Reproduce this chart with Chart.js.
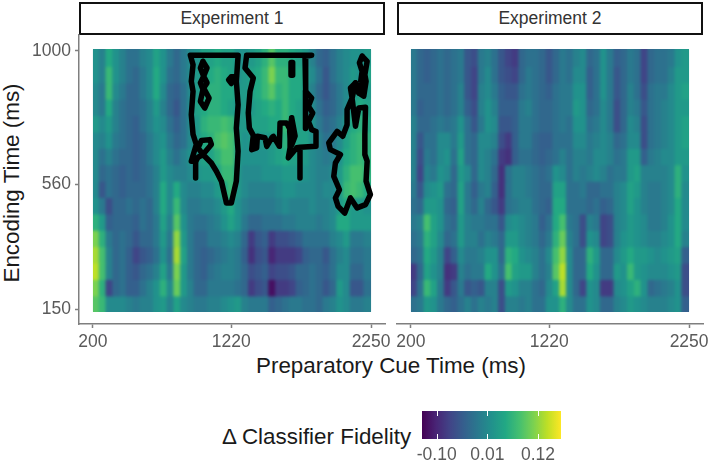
<!DOCTYPE html>
<html>
<head>
<meta charset="utf-8">
<title>Classifier fidelity</title>
<script src="https://cdn.jsdelivr.net/npm/chart.js@4/dist/chart.umd.min.js"></script>
<style>
  html, body { margin: 0; padding: 0; background: #fff; }
  body { width: 709px; height: 466px; position: relative; overflow: hidden; font-family: "Liberation Sans", Arial, sans-serif; }
  canvas { position: absolute; }
  .strip { position: absolute; top: 2px; height: 29px; box-sizing: content-box; border: 2px solid #111; background: #fff;
           text-align: center; font-size: 17.5px; line-height: 29px; color: #333; }
  .title { position: absolute; color: #1a1a1a; font-size: 22.4px; white-space: nowrap; }
</style>
</head>
<body>
<div class="strip" style="left:79px;width:302px">Experiment 1</div>
<div class="strip" style="left:397px;width:302px">Experiment 2</div>
<div class="title" style="left:12px;top:183px;transform:translate(-50%,-50%) rotate(-90deg)">Encoding Time (ms)</div>
<div class="title" style="left:391px;top:366px;transform:translate(-50%,-50%)">Preparatory Cue Time (ms)</div>
<div class="title" style="left:222px;top:437px;transform:translateY(-50%)">Δ Classifier Fidelity</div>

<canvas id="exp1" style="left:0;top:34px" width="395" height="320"></canvas>
<canvas id="exp2" style="left:385px;top:34px" width="324" height="320"></canvas>
<canvas id="legendBar" style="left:405px;top:411px" width="175" height="55"></canvas>

<script>
// Cell centres on both axes, in ms
const cueTimes = [225, 275, 325, 375, 425, 475, 525, 575, 625, 675, 725, 775, 825, 875, 925, 975, 1025, 1075, 1125, 1175, 1225,
    1275, 1325, 1375, 1425, 1475, 1525, 1575, 1625, 1675, 1725, 1775, 1825, 1875, 1925, 1975, 2025, 2075, 2125, 2175, 2225];
const encodingTimes = [978, 924, 870, 816, 762, 708, 654, 600, 546, 492, 438, 384, 330, 276, 222, 168];
const encodingStep = 54;

const cueTicks = [200, 1220, 2250];
const encodingTicks = [150, 560, 1000];
const legendTicks = [-0.10, 0.01, 0.12];
const legendRange = [-0.132, 0.17];

// Fidelity difference in hundredths, one line per encoding time, top row first
const exp1Fidelity = [
    [2,0,5,2,0,-2,-2,0,1,4,2,-1,-3,-1,1,2,4,4,5,4,4,2,2,3,4,6,9,6,6,5,4,3,0,-3,-4,-2,0,1,2,2,3],
    [2,0,7,2,0,-2,-3,-1,1,5,2,-2,-3,-1,1,3,4,5,6,5,4,2,3,4,5,7,11,7,7,5,5,4,1,-2,-5,-2,0,1,3,2,4],
    [1,-1,7,1,-1,-3,-3,-1,1,5,1,-3,-4,-2,1,3,5,6,6,5,5,3,3,4,5,7,9,6,7,5,5,3,0,-3,-5,-3,-1,1,3,4,3],
    [1,-1,5,0,-2,-3,-3,-2,0,3,0,-3,-5,-2,1,4,5,6,6,5,4,2,3,3,4,5,6,5,7,5,4,3,1,-2,-4,-3,-1,1,4,5,4],
    [3,1,3,0,-2,-3,-4,-2,0,2,1,-2,-4,-2,1,3,6,7,7,8,7,3,3,4,4,4,5,5,7,5,4,4,2,-1,-3,-2,0,3,5,6,5],
    [1,0,2,-1,-2,-3,-4,-3,-1,1,2,-1,-3,-2,1,3,5,6,8,9,8,4,2,3,2,3,3,4,6,5,4,4,2,0,-2,-1,1,4,6,7,6],
    [1,-2,0,-2,-3,-3,-4,-3,-1,1,3,0,-2,0,2,3,4,4,6,8,8,3,2,2,2,2,3,4,5,4,4,3,1,0,-1,0,2,5,6,7,6],
    [1,-3,-2,-3,-4,-3,-4,-3,-2,0,3,1,0,0,1,2,3,3,4,7,7,3,1,1,1,2,2,2,3,3,3,2,1,0,0,1,3,6,8,8,6],
    [1,-5,-2,-3,-4,-3,-3,-3,-2,0,5,1,5,1,0,0,1,1,3,5,7,3,1,0,0,0,0,1,2,2,1,1,1,0,1,1,3,7,8,7,5],
    [2,-1,-6,-3,-3,-2,-3,-2,-3,0,5,1,7,1,-1,-1,0,0,1,3,5,2,0,-1,-1,-1,-1,0,1,0,0,0,1,0,0,1,3,5,3,3,2],
    [6,3,-4,-3,-3,-3,-4,-2,-3,-1,4,0,9,2,-1,-2,-2,-1,0,2,4,2,-1,-3,-3,-2,-2,-2,-1,-1,0,0,0,-1,0,1,5,5,3,3,3],
    [11,6,-1,-3,-2,-3,-5,-3,-3,-1,3,-1,12,3,-1,-3,-3,-1,-1,0,1,0,-3,-8,-5,-4,-8,-6,-6,-5,-4,-2,-2,-2,-2,0,1,3,-1,-1,0],
    [13,8,0,-3,-2,-4,-7,-5,-4,-2,2,-2,13,4,-1,-3,-4,-3,-2,-1,0,-1,-4,-9,-6,-5,-10,-8,-8,-8,-7,-4,-3,-3,-5,-2,0,1,-2,-2,-1],
    [14,8,0,-3,-2,-4,-5,-3,-2,0,4,-1,11,3,-1,-3,-4,-2,-1,0,0,-1,-3,-6,-5,-4,-7,-6,-6,-5,-3,-3,-2,-3,-4,-2,1,1,-3,-3,-1],
    [11,6,-7,-3,-2,-4,-4,-2,0,2,6,1,10,3,0,-3,-3,-1,-1,-1,-1,-2,-3,-8,-6,-5,-12,-8,-8,-7,-4,-3,-2,-3,-5,-3,3,1,-5,-5,-2],
    [9,7,1,1,1,0,-1,0,0,2,3,0,4,1,0,-1,-1,0,0,1,2,3,0,-1,-1,-1,-4,-3,-2,-1,-1,-2,-2,-3,-1,0,2,1,-1,-1,0]
];
const exp2Fidelity = [
    [-1,-3,-4,-3,-2,-3,-2,-1,-5,-6,-1,0,-2,-5,-7,-8,-3,-2,-2,-3,-5,-3,-1,-2,0,1,-3,-2,2,-1,-4,-3,-1,-2,-7,-3,-2,-2,-1,2,3],
    [-1,-3,-4,-3,-2,-3,-2,-1,-5,-7,-1,1,-2,-5,-6,-7,-3,-1,-2,-3,-5,-3,-1,-2,1,1,-4,-2,2,-1,-5,-3,-1,-2,-7,-3,-2,-2,0,3,3],
    [-1,-3,-3,-3,-2,-3,-2,0,-5,-7,0,1,-1,-4,-5,-5,-2,-1,-2,-3,-4,-2,-1,-1,2,2,-4,-2,2,-1,-5,-3,0,-2,-6,-2,-1,-1,1,3,4],
    [-1,-4,-3,-3,-2,-3,-2,0,-4,-6,0,2,0,-4,-4,-4,-1,0,-2,-3,-3,-2,-1,-1,3,2,-3,-2,1,-1,-6,-3,0,-1,-5,-2,-1,0,1,3,3],
    [0,-3,-3,-2,-1,-2,-1,2,-2,-5,-1,2,1,-5,-5,-4,-1,-1,-2,-3,-3,-2,-1,-2,2,2,-2,-1,1,-1,-6,-3,1,0,-6,-2,-1,0,1,3,4],
    [0,-5,-2,-2,1,1,-1,3,-2,-3,1,1,0,-6,-8,-4,-1,-1,-3,-4,-4,-2,-2,-2,1,1,-1,0,1,0,-3,-2,1,1,-6,-2,-1,0,1,3,4],
    [0,-6,-1,-2,1,2,-2,4,-2,-3,1,0,-2,-8,-9,-4,-2,-2,-3,-4,-3,-2,0,-2,0,0,-1,1,1,0,-2,-1,3,3,-4,-1,0,1,1,3,3],
    [0,-7,0,-1,2,1,-3,3,1,-3,1,0,-3,-9,-2,0,0,-1,-2,-3,-2,2,1,-2,0,-1,0,1,0,-2,-1,-1,3,4,0,0,0,0,1,6,2],
    [-1,-5,1,2,3,-2,-3,4,-1,-4,-1,0,-4,-9,-2,0,0,-1,-2,-3,-3,4,4,-2,-2,-1,-3,-3,-2,-2,0,1,4,3,0,-1,-1,0,1,6,1],
    [-2,-3,3,3,2,-3,-4,4,-1,-3,0,-3,-5,-8,-2,-1,0,0,-2,-3,-4,5,5,-2,-2,-2,-3,-2,-4,-3,0,1,4,2,0,-1,-1,0,1,5,1],
    [-1,0,8,4,2,-2,-3,3,0,-1,-1,-2,-2,-5,1,2,1,0,-1,-4,-2,5,8,-1,-2,-6,0,-1,-7,-6,0,1,3,2,1,-1,-1,0,2,5,1],
    [-2,-1,6,4,1,-3,-2,3,0,0,-2,0,-1,-3,3,3,1,0,-1,-3,-1,6,10,0,-2,-6,2,1,-7,-6,0,2,3,2,1,0,0,1,2,5,0],
    [-3,-2,5,3,0,-7,-4,1,-1,-1,0,2,2,-3,6,5,2,1,0,-2,1,8,12,1,-3,-3,6,3,-3,-3,1,3,5,3,3,2,1,2,3,4,-4],
    [-8,-3,4,2,0,-9,-8,0,-2,-1,-1,5,2,-2,8,4,3,3,0,-2,0,9,14,1,-3,-3,5,2,-3,-3,3,2,7,3,2,1,1,1,2,3,-6],
    [-7,-2,7,4,-1,-8,-5,-1,-5,-4,-5,0,0,-6,3,2,0,0,-2,-3,1,4,13,1,-3,-7,2,1,-8,-8,1,2,4,6,2,-3,-2,-1,0,2,-6],
    [-2,-1,3,2,-1,-3,-4,-2,0,-2,0,-1,0,-6,0,0,-1,0,-2,-2,2,2,6,1,-2,-2,2,1,-3,-3,0,1,3,2,1,0,0,0,1,2,-4]
];

// Significant clusters in experiment 1 as [cue ms, encoding ms]
const clusterLeft = [[918,986],[1270,986],[1257,900],[1270,823],[1257,746],[1270,670],[1257,571],[1220,499],[1184,499],[1147,571],
    [1110,604],[1073,631],[1011,659],[1073,692],[1061,708],[999,705],[975,681],[1011,659],[975,650],[957,637],[925,637],[962,692],
    [938,725],[925,790],[938,867],[925,900],[938,955],[918,986]];
const clusterLeftTail = [[957,637],[957,582]];
const clusterLeftHole = [[1011,966],[1041,944],[1016,917],[1041,895],[1016,878],[1056,845],[1024,812],[992,834],[1011,873],[992,895],[1016,917],[992,944],[1011,966]];
const clusterLeftDot = [[1257,915],[1220,915],[1240,905],[1220,893],[1200,905],[1220,915]];
const clusterMiddle = [[1333,986],[1812,986],[1763,983],[1768,867],[1812,845],[1788,818],[1820,796],[1788,768],[1812,741],[1844,735],
    [1844,686],[1726,683],[1726,582],[1726,683],[1702,681],[1640,648],[1653,681],[1653,741],[1628,763],[1579,763],[1574,686],[1530,719],
    [1518,714],[1481,686],[1468,714],[1412,719],[1407,681],[1370,675],[1382,722],[1353,746],[1345,796],[1358,867],[1382,911],[1321,944],[1333,986]];
const clusterMiddleChain = [[1768,867],[1763,790],[1770,745]];
const clusterMiddleDot = [[1660,962],[1672,962],[1672,920],[1660,920],[1660,962]];
const clusterMiddleLoop = [[1665,780],[1690,720],[1665,690],[1650,735],[1665,780]];
const clusterRight = [[2110,845],[2135,752],[2159,812],[2209,815],[2204,725],[2204,659],[2221,637],[2213,571],[2245,527],[2209,494],
    [2147,483],[2098,516],[2056,466],[2007,488],[1987,516],[2017,543],[1975,587],[1987,631],[2024,659],[1950,675],[1938,697],[2000,735],
    [2041,719],[2073,757],[2073,807],[2110,845],[2098,878],[2135,895],[2110,845]];
const clusterRightTop = [[2184,983],[2221,966],[2204,922],[2213,900],[2196,851],[2159,862],[2172,895],[2184,933],[2164,961],[2184,983]];
const clusterRightLink = [[2135,895],[2159,862]];
const exp1Clusters = [clusterLeft, clusterLeftTail, clusterLeftHole, clusterLeftDot, clusterMiddle, clusterMiddleChain, clusterMiddleDot,
    clusterMiddleLoop, clusterRight, clusterRightTop, clusterRightLink];

const viridisStops = ['#440154','#482475','#414487','#355f8d','#2a788e','#21918c','#22a884','#44bf70','#7ad151','#bddf26','#fde725'];

const axisGrey = '#7f7f7f';
const tickGrey = '#5a5a5a';
const tickFont = { family: '"Liberation Sans", Arial, sans-serif', size: 17.5 };

function hexToRgb(hex) {
    return [1, 3, 5].map(i => parseInt(hex.slice(i, i + 2), 16));
}

function viridis(value) {
    const t = Math.min(1, Math.max(0, (value - legendRange[0]) / (legendRange[1] - legendRange[0])));
    const pos = t * (viridisStops.length - 1);
    const i = Math.min(viridisStops.length - 2, Math.floor(pos));
    const a = hexToRgb(viridisStops[i]);
    const b = hexToRgb(viridisStops[i + 1]);
    const c = a.map((v, k) => Math.round(v + (b[k] - v) * (pos - i)));
    return `rgb(${c[0]},${c[1]},${c[2]})`;
}

// Smooths the raster once the last row of cells is down, before the cluster lines go on top
const smoothRaster = {
    id: 'smoothRaster',
    afterDatasetDraw(chart, args) {
        if (args.index !== 0) return;
        const { ctx, canvas, scales } = chart;
        const left = scales.x.getPixelForValue(200);
        const right = scales.x.getPixelForValue(2250);
        const top = scales.y.getPixelForValue(encodingTimes[0] + encodingStep / 2);
        const bottom = scales.y.getPixelForValue(encodingTimes[encodingTimes.length - 1] - encodingStep / 2);
        const copy = document.createElement('canvas');
        copy.width = canvas.width;
        copy.height = canvas.height;
        copy.getContext('2d').drawImage(canvas, 0, 0);
        // trim the inflated cell overhang so the raster has a clean edge
        ctx.clearRect(left - 3, top - 3, right - left + 6, 3);
        ctx.clearRect(left - 3, bottom, right - left + 6, 3);
        ctx.clearRect(left - 3, top - 3, 3, bottom - top + 6);
        ctx.clearRect(right, top - 3, 3, bottom - top + 6);
        ctx.save();
        ctx.beginPath();
        ctx.rect(left, top, right - left, bottom - top);
        ctx.clip();
        ctx.filter = 'blur(1.7px)';
        ctx.drawImage(copy, 0, 0);
        ctx.restore();
    }
};

function buildDatasets(matrix, clusters) {
    const rows = matrix.map((row, r) => ({
        type: 'bar',
        order: 1,
        grouped: false,
        inflateAmount: 1,
        borderWidth: 0,
        barPercentage: 1,
        categoryPercentage: 1,
        data: row.map((v, c) => ({
            x: cueTimes[c],
            y: [encodingTimes[r] - encodingStep / 2, encodingTimes[r] + encodingStep / 2]
        })),
        backgroundColor: row.map(v => viridis(v / 100))
    }));
    const lines = clusters.map(points => ({
        type: 'line',
        order: 0,
        data: points.map(p => ({ x: p[0], y: p[1] })),
        borderColor: '#000',
        borderWidth: 5.5,
        borderJoinStyle: 'round',
        borderCapStyle: 'round',
        pointRadius: 0,
        tension: 0,
        fill: false
    }));
    return rows.concat(lines);
}

function panelOptions(showY, padding) {
    return {
        responsive: false,
        animation: false,
        layout: { padding: padding },
        plugins: { legend: { display: false }, tooltip: { enabled: false } },
        scales: {
            x: {
                type: 'linear',
                offset: false,
                min: 97.5,
                max: 2352.5,
                afterBuildTicks: s => { s.ticks = cueTicks.map(v => ({ value: v })); },
                afterFit: s => { s.height = 30; s.paddingLeft = 0; s.paddingRight = 0; },
                grid: { offset: false, drawOnChartArea: false, tickLength: 4, tickColor: axisGrey, tickWidth: 1.5 },
                border: { color: axisGrey, width: 1.5 },
                ticks: { color: tickGrey, font: tickFont, padding: 4, autoSkip: false, maxRotation: 0, callback: v => String(v) }
            },
            y: {
                display: showY,
                min: 100.6,
                max: 1056,
                afterBuildTicks: s => { s.ticks = encodingTicks.map(v => ({ value: v })); },
                afterFit: s => { s.width = showY ? 79 : 0; s.paddingTop = 0; s.paddingBottom = 0; },
                grid: { drawOnChartArea: false, tickLength: 4, tickColor: axisGrey, tickWidth: 1.5 },
                border: { color: axisGrey, width: 1.5 },
                ticks: { color: tickGrey, font: tickFont, padding: 4, autoSkip: false, callback: v => String(v) }
            }
        }
    };
}

new Chart(document.getElementById('exp1'), {
    type: 'bar',
    data: { datasets: buildDatasets(exp1Fidelity, exp1Clusters) },
    options: panelOptions(true, { left: 0, right: 10, top: 0, bottom: 0 }),
    plugins: [smoothRaster]
});

new Chart(document.getElementById('exp2'), {
    type: 'bar',
    data: { datasets: buildDatasets(exp2Fidelity, []) },
    options: panelOptions(false, { left: 12, right: 6, top: 0, bottom: 0 }),
    plugins: [smoothRaster]
});

// White ticks at the top and bottom of the colour bar
const legendMarks = {
    id: 'legendMarks',
    afterDatasetsDraw(chart) {
        const { ctx, chartArea, scales } = chart;
        ctx.save();
        ctx.strokeStyle = '#fff';
        ctx.lineWidth = 1;
        legendTicks.forEach(v => {
            const px = Math.round(scales.x.getPixelForValue(v)) + 0.5;
            ctx.beginPath();
            ctx.moveTo(px, chartArea.top);
            ctx.lineTo(px, chartArea.top + 5);
            ctx.moveTo(px, chartArea.bottom - 5);
            ctx.lineTo(px, chartArea.bottom);
            ctx.stroke();
        });
        ctx.restore();
    }
};

new Chart(document.getElementById('legendBar'), {
    type: 'bar',
    data: {
        labels: ['fidelity'],
        datasets: [{
            data: [legendRange],
            borderWidth: 0,
            barPercentage: 1,
            categoryPercentage: 1,
            backgroundColor: c => {
                const area = c.chart.chartArea;
                if (!area) return viridisStops[5];
                const g = c.chart.ctx.createLinearGradient(area.left, 0, area.right, 0);
                viridisStops.forEach((col, i) => g.addColorStop(i / (viridisStops.length - 1), col));
                return g;
            }
        }]
    },
    options: {
        indexAxis: 'y',
        responsive: false,
        animation: false,
        layout: { padding: { left: 17, right: 19, top: 0, bottom: 0 } },
        plugins: { legend: { display: false }, tooltip: { enabled: false } },
        scales: {
            x: {
                type: 'linear',
                min: legendRange[0],
                max: legendRange[1],
                afterBuildTicks: s => { s.ticks = legendTicks.map(v => ({ value: v })); },
                afterFit: s => { s.height = 27; s.paddingLeft = 0; s.paddingRight = 0; },
                grid: { display: false, drawTicks: false },
                border: { display: false },
                ticks: { color: tickGrey, font: tickFont, padding: 6, autoSkip: false, maxRotation: 0, callback: v => v.toFixed(2) }
            },
            y: { display: false }
        }
    },
    plugins: [legendMarks]
});
</script>
</body>
</html>
